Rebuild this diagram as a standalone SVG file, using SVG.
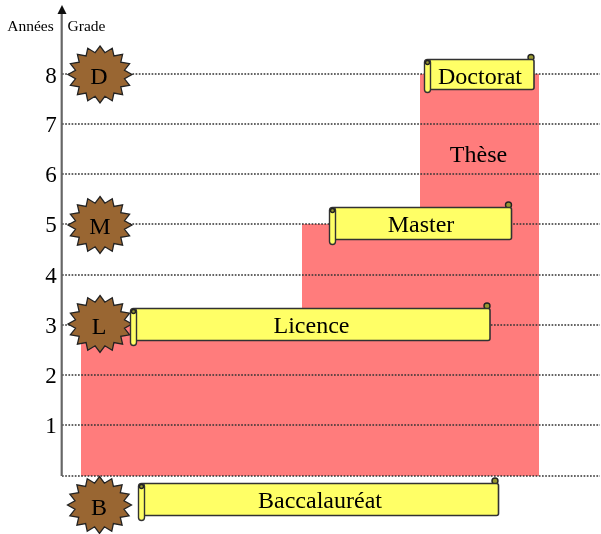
<svg xmlns="http://www.w3.org/2000/svg" width="601" height="534" viewBox="0 0 601 534">
<style>
text{font-family:"Liberation Serif","Times New Roman",serif;fill:#000;text-anchor:middle}
.n{font-size:23px}
.h{font-size:15.500px}
.t{font-size:24px}
.grid{stroke:#333;stroke-width:1.300;stroke-dasharray:1.700 1.500;fill:none}
.star{fill:#996633;stroke:#222;stroke-width:1.300;stroke-linejoin:miter}
.body{fill:#ffff66;stroke:#333;stroke-width:1.600}
.roll{fill:#ffff66;stroke:#333;stroke-width:1.400}
.curl{fill:#999933;stroke:#222;stroke-width:1.400}
.step{fill:#ff7c7c}
</style>
<defs>
<filter id="soft" x="0" y="0" width="100%" height="100%"><feGaussianBlur stdDeviation="0.35"/></filter>
<polygon id="s" points="0,-28.5 4.9,-21.8 12.25,-26.3 13.9,-18.5 22.6,-20.2 20.8,-12.3 29.6,-10.9 24.5,-4.3 32,0 24.5,4.3 29.6,10.9 20.8,12.3 22.6,20.2 13.9,18.5 12.25,26.3 4.9,21.8 0,28.5 -4.9,21.8 -12.25,26.3 -13.9,18.5 -22.6,20.2 -20.8,12.3 -29.6,10.9 -24.5,4.3 -32,0 -24.5,-4.3 -29.6,-10.9 -20.8,-12.3 -22.6,-20.2 -13.9,-18.5 -12.25,-26.3 -4.9,-21.8"/>
</defs>
<g filter="url(#soft)">
<g id="steps">
<rect class="step" x="81" y="325" width="458" height="151"/>
<rect class="step" x="302" y="224" width="237" height="101"/>
<rect class="step" x="420" y="74" width="119" height="150"/>
</g>
<g id="connectors">
<path class="grid" d="M62 74H600M62 124H600M62 174H600M62 224H600M62 275H600M62 325H600M62 375H600M62 425H600M62 476H600"/>
<path d="M61.700 476V12" stroke="#666" stroke-width="2.200" fill="none"/>
<polygon points="62,5 57.500,14 66.500,14" fill="#111"/>
</g>
<g id="axis-labels">
<text class="h" x="30.500" y="31">Années</text>
<text class="h" x="86.500" y="31">Grade</text>
<text class="n" x="51" y="83">8</text>
<text class="n" x="51" y="132">7</text>
<text class="n" x="51" y="182">6</text>
<text class="n" x="51" y="232">5</text>
<text class="n" x="51" y="283">4</text>
<text class="n" x="51" y="333">3</text>
<text class="n" x="51" y="383">2</text>
<text class="n" x="51" y="433">1</text>
</g>
<g id="these"><text class="t" x="478.500" y="162">Thèse</text></g>
<g id="grade-D"><use href="#s" class="star" x="100" y="74.500"/><text class="t" x="99" y="84">D</text></g>
<g id="grade-M"><use href="#s" class="star" x="100" y="225"/><text class="t" x="100" y="234">M</text></g>
<g id="grade-L"><use href="#s" class="star" x="100" y="324"/><text class="t" x="99" y="334">L</text></g>
<g id="grade-B"><use href="#s" class="star" x="99.500" y="505"/><text class="t" x="99" y="515">B</text></g>
<g id="doctorat">
<circle class="curl" cx="531" cy="57.500" r="3"/>
<rect class="body" x="427" y="59.500" width="107" height="30" rx="2"/>
<rect class="roll" x="424.500" y="59.500" width="6" height="33" rx="3"/>
<circle class="curl" cx="427.500" cy="62.500" r="2"/>
<text class="t" x="480" y="84">Doctorat</text>
</g>
<g id="master">
<circle class="curl" cx="508.500" cy="205" r="3"/>
<rect class="body" x="332" y="207.500" width="179.500" height="32" rx="2"/>
<rect class="roll" x="329.500" y="207.500" width="6" height="37" rx="3"/>
<circle class="curl" cx="332.500" cy="210.500" r="2"/>
<text class="t" x="421" y="232">Master</text>
</g>
<g id="licence">
<circle class="curl" cx="487" cy="306" r="3"/>
<rect class="body" x="133" y="308.500" width="357" height="32" rx="2"/>
<rect class="roll" x="130.500" y="308.500" width="6" height="37" rx="3"/>
<circle class="curl" cx="133.500" cy="311.500" r="2"/>
<text class="t" x="311.500" y="333">Licence</text>
</g>
<g id="baccalaureat">
<circle class="curl" cx="495" cy="481" r="3"/>
<rect class="body" x="141" y="483.500" width="357.500" height="32" rx="2"/>
<rect class="roll" x="138.500" y="483.500" width="6" height="37" rx="3"/>
<circle class="curl" cx="141.500" cy="486.500" r="2"/>
<text class="t" x="320" y="508">Baccalauréat</text>
</g>
</g>
</svg>
